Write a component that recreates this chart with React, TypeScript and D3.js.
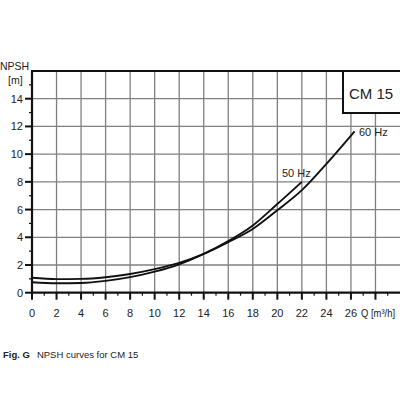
import { useEffect, useRef } from 'react';
import * as d3 from 'd3';

// NPSH curves for CM 15
const q50 = [0, 2, 4, 6, 8, 10, 12, 14, 16, 18, 20, 22];
const npsh50 = [0.75, 0.68, 0.7, 0.85, 1.12, 1.52, 2.05, 2.8, 3.72, 4.85, 6.4, 8.0];

const q60 = [0, 2, 4, 6, 8, 10, 12, 14, 16, 18, 20, 22, 24, 26.3];
const npsh60 = [1.08, 0.98, 1.0, 1.12, 1.35, 1.7, 2.15, 2.8, 3.65, 4.6, 5.95, 7.4, 9.3, 11.65];

const xTicks = [0, 2, 4, 6, 8, 10, 12, 14, 16, 18, 20, 22, 24, 26];
const yTicks = [0, 2, 4, 6, 8, 10, 12, 14];

const FONT = 'Liberation Sans, Arial, sans-serif';

export default function App() {
  const svgRef = useRef<SVGSVGElement>(null);

  useEffect(() => {
    if (!svgRef.current) return;
    const W = 400, H = 400;
    const svg = d3.select(svgRef.current);
    svg.selectAll('*').remove();
    svg.attr('viewBox', `0 0 ${W} ${H}`).attr('width', W).attr('height', H);

    svg.append('rect').attr('width', W).attr('height', H).attr('fill', '#fff');

    const x = d3.scaleLinear().domain([0, 30]).range([32, 400]);
    const y = d3.scaleLinear().domain([0, 16]).range([292.7, 71]);

    // grid
    const grid = svg.append('g').attr('stroke', '#808080').attr('stroke-width', 1.3);
    for (let v = 2; v <= 28; v += 2) {
      grid.append('line').attr('x1', x(v)).attr('x2', x(v)).attr('y1', y(0)).attr('y2', y(16));
    }
    for (const v of yTicks.filter(d => d > 0)) {
      grid.append('line').attr('x1', x(0)).attr('x2', W).attr('y1', y(v)).attr('y2', y(v));
    }

    // axes frame
    const ax = svg.append('g').attr('stroke', '#111').attr('stroke-width', 2.2);
    ax.append('line').attr('x1', x(0)).attr('x2', W).attr('y1', y(0)).attr('y2', y(0));
    ax.append('line').attr('x1', x(0)).attr('x2', x(0)).attr('y1', y(0)).attr('y2', y(16));
    ax.append('line').attr('x1', x(0) - 1).attr('x2', W).attr('y1', y(16)).attr('y2', y(16));

    // y ticks
    for (let v = 0; v <= 15; v++) {
      const major = v % 2 === 0;
      ax.append('line')
        .attr('x1', x(0) - (major ? 7 : 3)).attr('x2', x(0))
        .attr('y1', y(v)).attr('y2', y(v))
        .attr('stroke-width', major ? 2 : 1.2);
    }
    // x ticks
    for (let v = 0; v <= 29; v++) {
      const major = v % 2 === 0;
      ax.append('line')
        .attr('x1', x(v)).attr('x2', x(v))
        .attr('y1', y(0)).attr('y2', y(0) + (major ? 7 : 3))
        .attr('stroke-width', major ? 2 : 1.2);
    }

    // curves
    const line = d3.line<[number, number]>()
      .x(d => x(d[0])).y(d => y(d[1])).curve(d3.curveMonotoneX);
    const series = [
      q50.map((q, i) => [q, npsh50[i]] as [number, number]),
      q60.map((q, i) => [q, npsh60[i]] as [number, number]),
    ];
    svg.append('g').selectAll('path').data(series).enter().append('path')
      .attr('d', d => line(d) ?? '')
      .attr('fill', 'none').attr('stroke', '#111').attr('stroke-width', 1.9);

    // CM 15 box
    svg.append('rect').attr('x', 343).attr('y', y(16)).attr('width', 60).attr('height', 42)
      .attr('fill', '#fff').attr('stroke', '#111').attr('stroke-width', 2);

    const txt = svg.append('g').attr('font-family', FONT).attr('fill', '#222');
    txt.selectAll('text.yt').data(yTicks).enter().append('text')
      .attr('x', x(0) - 9).attr('y', d => y(d)).attr('dy', '0.36em')
      .attr('text-anchor', 'end').attr('font-size', 11).text(d => d);
    txt.selectAll('text.xt').data(xTicks).enter().append('text')
      .attr('x', d => x(d)).attr('y', y(0) + 24)
      .attr('text-anchor', 'middle').attr('font-size', 11).text(d => d);

    txt.append('text').attr('x', 361).attr('y', y(0) + 24).attr('font-size', 11)
      .attr('textLength', 34).attr('lengthAdjust', 'spacingAndGlyphs').text('Q [m³/h]');
    txt.append('text').attr('x', 0).attr('y', 70).attr('font-size', 10.5).text('NPSH');
    txt.append('text').attr('x', 8).attr('y', 84).attr('font-size', 10.5).text('[m]');

    txt.append('text').attr('x', 282).attr('y', 177).attr('font-size', 11).text('50 Hz');
    txt.append('text').attr('x', 359).attr('y', 136).attr('font-size', 11).text('60 Hz');

    txt.append('text').attr('x', 371).attr('y', 99).attr('text-anchor', 'middle')
      .attr('font-size', 15).text('CM 15');

    // caption
    const cap = txt.append('text').attr('x', 3).attr('y', 358).attr('font-size', 9.5);
    cap.append('tspan').attr('font-weight', 'bold').text('Fig. G');
    cap.append('tspan').attr('dx', 7).text('NPSH curves for CM 15');
  }, []);

  return <svg ref={svgRef} style={{ position: 'absolute', left: 0, top: 0 }} />;
}
